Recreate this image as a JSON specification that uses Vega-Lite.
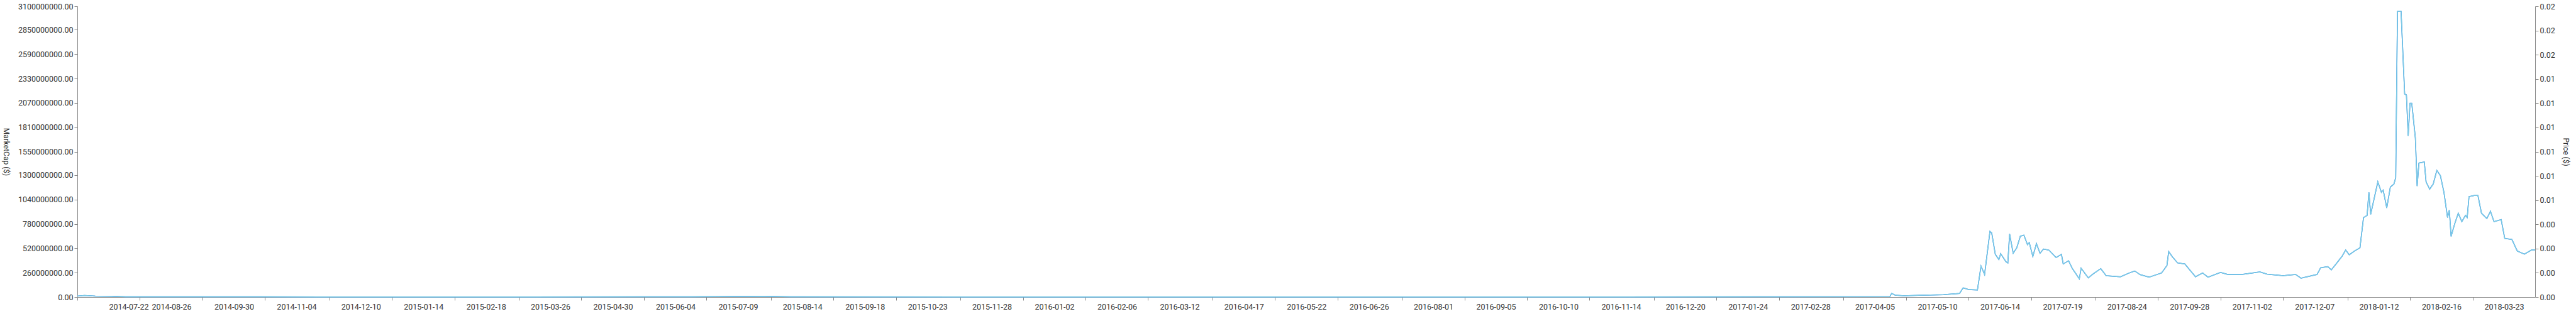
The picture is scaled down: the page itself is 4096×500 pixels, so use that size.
{
  "$schema": "https://vega.github.io/schema/vega-lite/v6.json",
  "width": 3908,
  "height": 463,
  "autosize": "none",
  "padding": {"left": 123, "top": 10, "right": 65, "bottom": 27},
  "background": "white",
  "config": {
    "font": "Roboto",
    "view": {"stroke": null},
    "axis": {"labelFont": "Roboto", "titleFont": "Roboto", "labelFontSize": 12.5, "titleFontSize": 12, "titleFontWeight": "normal", "labelColor": "#333", "titleColor": "#333", "domainColor": "#888", "tickColor": "#888", "grid": false}
  },
  "data": {"values": [
    {"date": "2014-07-22", "mc": 10000000, "price": 0.000062},
    {"date": "2014-07-26", "mc": 16000000, "price": 0.000099},
    {"date": "2014-08-01", "mc": 10000000, "price": 0.000062},
    {"date": "2014-08-10", "mc": 8000000, "price": 0.00005},
    {"date": "2014-08-18", "mc": 4000000, "price": 0.000025},
    {"date": "2014-09-15", "mc": 3000000, "price": 0.000019},
    {"date": "2014-11-01", "mc": 3000000, "price": 0.000019},
    {"date": "2015-01-01", "mc": 2000000, "price": 0.000012},
    {"date": "2015-04-01", "mc": 2000000, "price": 0.000012},
    {"date": "2015-07-01", "mc": 3000000, "price": 0.000019},
    {"date": "2015-08-10", "mc": 8000000, "price": 0.00005},
    {"date": "2015-08-25", "mc": 3000000, "price": 0.000019},
    {"date": "2015-12-01", "mc": 2000000, "price": 0.000012},
    {"date": "2016-04-01", "mc": 2000000, "price": 0.000012},
    {"date": "2016-08-01", "mc": 2000000, "price": 0.000012},
    {"date": "2016-12-01", "mc": 2000000, "price": 0.000012},
    {"date": "2017-03-01", "mc": 3000000, "price": 0.000019},
    {"date": "2017-05-01", "mc": 5000000, "price": 0.000031},
    {"date": "2017-05-02", "mc": 39000000, "price": 0.000241},
    {"date": "2017-05-04", "mc": 20000000, "price": 0.000124},
    {"date": "2017-05-09", "mc": 14000000, "price": 0.000087},
    {"date": "2017-05-20", "mc": 20000000, "price": 0.000124},
    {"date": "2017-05-31", "mc": 25000000, "price": 0.000155},
    {"date": "2017-06-09", "mc": 39000000, "price": 0.000241},
    {"date": "2017-06-11", "mc": 98000000, "price": 0.000607},
    {"date": "2017-06-14", "mc": 80000000, "price": 0.000495},
    {"date": "2017-06-19", "mc": 75000000, "price": 0.000464},
    {"date": "2017-06-21", "mc": 330000000, "price": 0.00204},
    {"date": "2017-06-23", "mc": 240000000, "price": 0.001486},
    {"date": "2017-06-26", "mc": 700000000, "price": 0.004333},
    {"date": "2017-06-27", "mc": 683000000, "price": 0.004228},
    {"date": "2017-06-29", "mc": 455000000, "price": 0.002816},
    {"date": "2017-07-01", "mc": 400000000, "price": 0.002476},
    {"date": "2017-07-02", "mc": 462000000, "price": 0.00286},
    {"date": "2017-07-05", "mc": 375000000, "price": 0.002321},
    {"date": "2017-07-06", "mc": 364000000, "price": 0.002253},
    {"date": "2017-07-07", "mc": 672000000, "price": 0.00416},
    {"date": "2017-07-09", "mc": 467000000, "price": 0.002891},
    {"date": "2017-07-11", "mc": 524000000, "price": 0.003244},
    {"date": "2017-07-13", "mc": 649000000, "price": 0.004017},
    {"date": "2017-07-15", "mc": 660000000, "price": 0.004085},
    {"date": "2017-07-17", "mc": 558000000, "price": 0.003454},
    {"date": "2017-07-18", "mc": 580000000, "price": 0.00359},
    {"date": "2017-07-20", "mc": 433000000, "price": 0.00268},
    {"date": "2017-07-22", "mc": 569000000, "price": 0.003522},
    {"date": "2017-07-24", "mc": 467000000, "price": 0.002891},
    {"date": "2017-07-26", "mc": 512000000, "price": 0.003169},
    {"date": "2017-07-29", "mc": 500000000, "price": 0.003095},
    {"date": "2017-08-02", "mc": 421000000, "price": 0.002606},
    {"date": "2017-08-05", "mc": 455000000, "price": 0.002816},
    {"date": "2017-08-06", "mc": 353000000, "price": 0.002185},
    {"date": "2017-08-09", "mc": 387000000, "price": 0.002396},
    {"date": "2017-08-11", "mc": 307000000, "price": 0.0019},
    {"date": "2017-08-15", "mc": 194000000, "price": 0.001201},
    {"date": "2017-08-16", "mc": 307000000, "price": 0.0019},
    {"date": "2017-08-20", "mc": 205000000, "price": 0.001269},
    {"date": "2017-08-23", "mc": 250000000, "price": 0.001548},
    {"date": "2017-08-27", "mc": 303000000, "price": 0.001876},
    {"date": "2017-08-30", "mc": 228000000, "price": 0.001411},
    {"date": "2017-09-07", "mc": 216000000, "price": 0.001337},
    {"date": "2017-09-12", "mc": 257000000, "price": 0.001591},
    {"date": "2017-09-15", "mc": 278000000, "price": 0.001721},
    {"date": "2017-09-18", "mc": 239000000, "price": 0.001479},
    {"date": "2017-09-23", "mc": 212000000, "price": 0.001312},
    {"date": "2017-09-30", "mc": 257000000, "price": 0.001591},
    {"date": "2017-10-03", "mc": 335000000, "price": 0.002074},
    {"date": "2017-10-04", "mc": 485000000, "price": 0.003002},
    {"date": "2017-10-06", "mc": 430000000, "price": 0.002662},
    {"date": "2017-10-09", "mc": 364000000, "price": 0.002253},
    {"date": "2017-10-13", "mc": 353000000, "price": 0.002185},
    {"date": "2017-10-16", "mc": 285000000, "price": 0.001764},
    {"date": "2017-10-19", "mc": 216000000, "price": 0.001337},
    {"date": "2017-10-23", "mc": 257000000, "price": 0.001591},
    {"date": "2017-10-26", "mc": 212000000, "price": 0.001312},
    {"date": "2017-11-02", "mc": 263000000, "price": 0.001628},
    {"date": "2017-11-06", "mc": 241000000, "price": 0.001492},
    {"date": "2017-11-14", "mc": 241000000, "price": 0.001492},
    {"date": "2017-11-24", "mc": 268000000, "price": 0.001659},
    {"date": "2017-11-28", "mc": 245000000, "price": 0.001517},
    {"date": "2017-12-07", "mc": 228000000, "price": 0.001411},
    {"date": "2017-12-14", "mc": 241000000, "price": 0.001492},
    {"date": "2017-12-17", "mc": 201000000, "price": 0.001244},
    {"date": "2017-12-26", "mc": 241000000, "price": 0.001492},
    {"date": "2017-12-28", "mc": 312000000, "price": 0.001931},
    {"date": "2018-01-01", "mc": 324000000, "price": 0.002006},
    {"date": "2018-01-03", "mc": 290000000, "price": 0.001795},
    {"date": "2018-01-06", "mc": 362000000, "price": 0.002241},
    {"date": "2018-01-09", "mc": 435000000, "price": 0.002693},
    {"date": "2018-01-11", "mc": 502000000, "price": 0.003107},
    {"date": "2018-01-13", "mc": 451000000, "price": 0.002792},
    {"date": "2018-01-16", "mc": 491000000, "price": 0.003039},
    {"date": "2018-01-19", "mc": 525000000, "price": 0.00325},
    {"date": "2018-01-21", "mc": 848000000, "price": 0.005249},
    {"date": "2018-01-23", "mc": 870000000, "price": 0.005385},
    {"date": "2018-01-24", "mc": 1116000000, "price": 0.006908},
    {"date": "2018-01-25", "mc": 882000000, "price": 0.00546},
    {"date": "2018-01-29", "mc": 1228000000, "price": 0.007601},
    {"date": "2018-01-31", "mc": 1116000000, "price": 0.006908},
    {"date": "2018-02-01", "mc": 1140000000, "price": 0.007057},
    {"date": "2018-02-03", "mc": 950000000, "price": 0.00588},
    {"date": "2018-02-05", "mc": 1172000000, "price": 0.007255},
    {"date": "2018-02-07", "mc": 1205000000, "price": 0.007459},
    {"date": "2018-02-08", "mc": 1272000000, "price": 0.007874},
    {"date": "2018-02-09", "mc": 3047000000, "price": 0.018861},
    {"date": "2018-02-11", "mc": 3047000000, "price": 0.018861},
    {"date": "2018-02-13", "mc": 2165000000, "price": 0.013401},
    {"date": "2018-02-14", "mc": 2154000000, "price": 0.013333},
    {"date": "2018-02-15", "mc": 1719000000, "price": 0.010641},
    {"date": "2018-02-16", "mc": 2065000000, "price": 0.012782},
    {"date": "2018-02-17", "mc": 2065000000, "price": 0.012782},
    {"date": "2018-02-19", "mc": 1696000000, "price": 0.010498},
    {"date": "2018-02-20", "mc": 1183000000, "price": 0.007323},
    {"date": "2018-02-21", "mc": 1429000000, "price": 0.008846},
    {"date": "2018-02-24", "mc": 1440000000, "price": 0.008914},
    {"date": "2018-02-25", "mc": 1228000000, "price": 0.007601},
    {"date": "2018-02-27", "mc": 1150000000, "price": 0.007119},
    {"date": "2018-03-01", "mc": 1205000000, "price": 0.007459},
    {"date": "2018-03-03", "mc": 1350000000, "price": 0.008357},
    {"date": "2018-03-05", "mc": 1295000000, "price": 0.008016},
    {"date": "2018-03-07", "mc": 1116000000, "price": 0.006908},
    {"date": "2018-03-09", "mc": 848000000, "price": 0.005249},
    {"date": "2018-03-10", "mc": 926000000, "price": 0.005732},
    {"date": "2018-03-11", "mc": 647000000, "price": 0.004005},
    {"date": "2018-03-13", "mc": 781000000, "price": 0.004834},
    {"date": "2018-03-15", "mc": 893000000, "price": 0.005528},
    {"date": "2018-03-17", "mc": 804000000, "price": 0.004977},
    {"date": "2018-03-19", "mc": 870000000, "price": 0.005385},
    {"date": "2018-03-20", "mc": 848000000, "price": 0.005249},
    {"date": "2018-03-21", "mc": 1071000000, "price": 0.00663},
    {"date": "2018-03-24", "mc": 1083000000, "price": 0.006704},
    {"date": "2018-03-26", "mc": 1083000000, "price": 0.006704},
    {"date": "2018-03-28", "mc": 893000000, "price": 0.005528},
    {"date": "2018-03-31", "mc": 837000000, "price": 0.005181},
    {"date": "2018-04-02", "mc": 915000000, "price": 0.005664},
    {"date": "2018-04-04", "mc": 804000000, "price": 0.004977},
    {"date": "2018-04-08", "mc": 826000000, "price": 0.005113},
    {"date": "2018-04-10", "mc": 625000000, "price": 0.003869},
    {"date": "2018-04-14", "mc": 614000000, "price": 0.003801},
    {"date": "2018-04-17", "mc": 491000000, "price": 0.003039},
    {"date": "2018-04-21", "mc": 458000000, "price": 0.002835},
    {"date": "2018-04-25", "mc": 502000000, "price": 0.003107},
    {"date": "2018-04-27", "mc": 502000000, "price": 0.003107}
  ]},
  "encoding": {
    "x": {
      "field": "date", "type": "temporal", "title": null,
      "scale": {"domain": ["2014-07-22", "2018-04-27"]},
      "axis": {
        "values": ["2014-07-22","2014-08-26","2014-09-30","2014-11-04","2014-12-10","2015-01-14","2015-02-18","2015-03-26","2015-04-30","2015-06-04","2015-07-09","2015-08-14","2015-09-18","2015-10-23","2015-11-28","2016-01-02","2016-02-06","2016-03-12","2016-04-17","2016-05-22","2016-06-26","2016-08-01","2016-09-05","2016-10-10","2016-11-14","2016-12-20","2017-01-24","2017-02-28","2017-04-05","2017-05-10","2017-06-14","2017-07-19","2017-08-24","2017-09-28","2017-11-02","2017-12-07","2018-01-12","2018-02-16","2018-03-23"],
        "format": "%Y-%m-%d", "labelOffset": 50, "labelPadding": 4, "tickSize": 5
      }
    }
  },
  "layer": [
    {
      "mark": {"type": "line", "color": "#1a7fe0", "strokeWidth": 1.5},
      "encoding": {
        "y": {
          "field": "mc", "type": "quantitative", "title": "MarketCap ($)",
          "scale": {"domain": [0, 3100000000], "nice": false},
          "axis": {"values": [0,260000000,520000000,780000000,1040000000,1300000000,1550000000,1810000000,2070000000,2330000000,2590000000,2850000000,3100000000], "format": ".2f", "titleAngle": 90, "titleX": -121, "titleBaseline": "bottom", "titleAlign": "center", "titlePadding": 0}
        }
      }
    },
    {
      "mark": {"type": "line", "color": "#7fcbe6", "strokeWidth": 1.5},
      "encoding": {
        "y": {
          "field": "price", "type": "quantitative", "title": "Price ($)",
          "scale": {"domain": [0, 0.0192], "nice": false},
          "axis": {"orient": "right", "values": [0,0.0016,0.0032,0.0048,0.0064,0.008,0.0096,0.0112,0.0128,0.0144,0.016,0.0176,0.0192], "format": ".2f", "titlePadding": 10}
        }
      }
    }
  ],
  "resolve": {"scale": {"y": "independent"}}
}
